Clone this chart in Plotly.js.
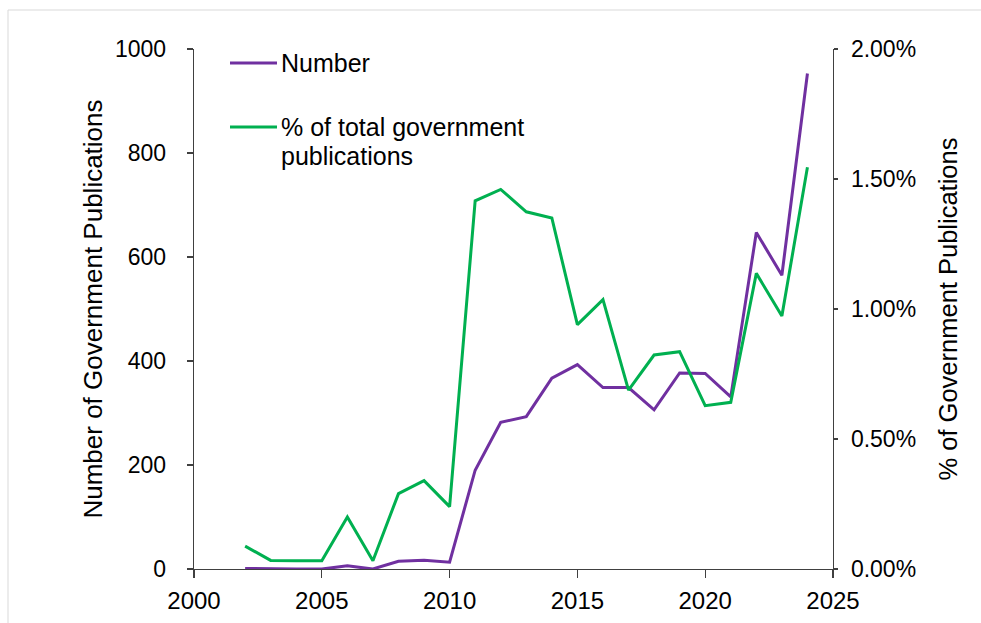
<!DOCTYPE html>
<html>
<head>
<meta charset="utf-8">
<script src="https://cdn.plot.ly/plotly-3.0.1.min.js"></script>
<style>
html,body{margin:0;padding:0;background:#fff;}
#chart{width:981px;height:623px;}
</style>
</head>
<body>
<div id="chart"></div>
<script>
// Data
const years = [2002,2003,2004,2005,2006,2007,2008,2009,2010,2011,2012,2013,2014,2015,2016,2017,2018,2019,2020,2021,2022,2023,2024];
const numberPubs = [1,0,0,0,6,0,15,17,13,190,282,293,367,393,349,349,306,377,376,331,647,565,953];
const pctPubs = [0.088,0.033,0.032,0.032,0.200,0.032,0.290,0.340,0.240,1.416,1.460,1.374,1.350,0.940,1.036,0.688,0.823,0.836,0.628,0.641,1.137,0.973,1.545];
const seriesNames = ["Number", "% of total government publications"];
const legendLines = ["Number", "% of total government", "publications"];
const xTicks = [2000,2005,2010,2015,2020,2025];
const yTicks = [0,200,400,600,800,1000];
const y2Ticks = [0,0.5,1.0,1.5,2.0];

const purple = "#7030A0";
const green = "#00B050";
const axisCol = "#404040";
const font = "Liberation Sans, Arial, sans-serif";

const traces = [
  {x: years, y: numberPubs, name: seriesNames[0], type: "scatter", mode: "lines",
   line: {color: purple, width: 3}, yaxis: "y", showlegend: false},
  {x: years, y: pctPubs, name: seriesNames[1], type: "scatter", mode: "lines",
   line: {color: green, width: 3}, yaxis: "y2", showlegend: false}
];

// Plot area in pixels: left 194, right 833, top 49, bottom 569
const L = 194, R = 833, T = 49, B = 569, W = 981, H = 623;
const px = v => (v - L) / (R - L);
const py = v => (B - v) / (B - T);

const tf = {size: 23, family: font, color: "#000"};
const lf = {size: 25, family: font, color: "#000"};

const layout = {
  width: W, height: H,
  margin: {l: L, r: W - R, t: T, b: H - B, pad: 0},
  paper_bgcolor: "#fff", plot_bgcolor: "#fff",
  font: {family: font, color: "#000", size: 23},
  xaxis: {
    range: [2000, 2025], tickvals: xTicks, ticktext: xTicks.map(String),
    showgrid: false, zeroline: false, showline: true, linecolor: axisCol, linewidth: 1.3,
    ticks: "outside", ticklen: 8, tickcolor: axisCol, tickwidth: 1.3,
    tickfont: {size: 24, family: font, color: "#000"}, ticklabelstandoff: 2
  },
  yaxis: {
    range: [0, 1000], tickvals: yTicks, ticktext: yTicks.map(String),
    showgrid: false, zeroline: false, showline: true, linecolor: axisCol, linewidth: 1.3,
    ticks: "outside", ticklen: 6, tickcolor: axisCol, tickwidth: 1.3,
    tickfont: tf, ticklabelstandoff: 16,
    title: {text: "Number of Government Publications", font: {size: 26, family: font, color: "#000"}, standoff: 4}
  },
  yaxis2: {
    range: [0, 2], tickvals: y2Ticks, ticktext: y2Ticks.map(v => v.toFixed(2) + "%"),
    overlaying: "y", side: "right",
    showgrid: false, zeroline: false, showline: true, linecolor: axisCol, linewidth: 1.3,
    ticks: "outside", ticklen: 4, tickcolor: axisCol, tickwidth: 1.3,
    tickfont: tf, ticklabelstandoff: 8,
    title: {text: "% of Government Publications", font: {size: 25.5, family: font, color: "#000"}, standoff: 24}
  },
  shapes: [
    {type: "line", xref: "paper", yref: "paper", x0: px(230), x1: px(277), y0: py(63), y1: py(63),
     line: {color: purple, width: 3}},
    {type: "line", xref: "paper", yref: "paper", x0: px(230), x1: px(277), y0: py(127), y1: py(127),
     line: {color: green, width: 3}},
    // light frame of the picture
    {type: "line", xref: "paper", yref: "paper", x0: px(8), x1: px(981), y0: py(10), y1: py(10),
     line: {color: "#d9d9d9", width: 1}},
    {type: "line", xref: "paper", yref: "paper", x0: px(8), x1: px(8), y0: py(10), y1: py(623),
     line: {color: "#d9d9d9", width: 1}}
  ],
  annotations: [
    {xref: "paper", yref: "paper", x: px(279), y: py(63), xanchor: "left", yanchor: "middle",
     text: legendLines[0], showarrow: false, align: "left", font: lf},
    {xref: "paper", yref: "paper", x: px(279), y: py(127), xanchor: "left", yanchor: "middle",
     text: legendLines[1], showarrow: false, align: "left", font: lf},
    {xref: "paper", yref: "paper", x: px(279), y: py(156), xanchor: "left", yanchor: "middle",
     text: legendLines[2], showarrow: false, align: "left", font: lf}
  ]
};

Plotly.newPlot("chart", traces, layout, {displayModeBar: false, staticPlot: true});
</script>
</body>
</html>
